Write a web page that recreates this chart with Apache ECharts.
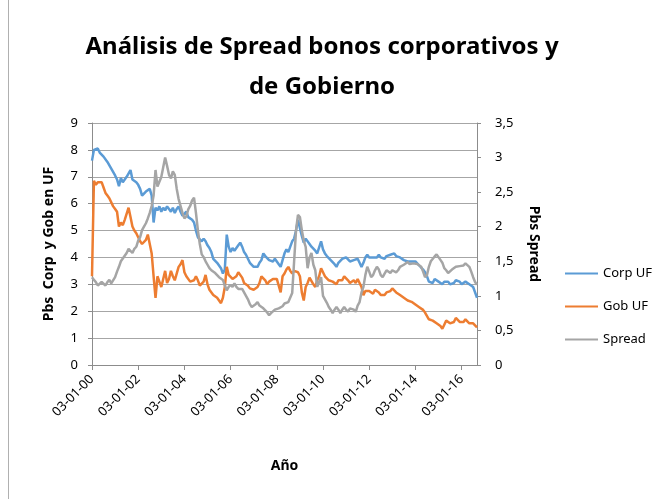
<!DOCTYPE html>
<html lang="es">
<head>
    <meta charset="utf-8">
    <title>Spread bonos</title>
    <script src="https://cdn.jsdelivr.net/npm/echarts@6/dist/echarts.min.js"></script>
    <style>
        html, body { margin: 0; height: 100%; background: #fff; }
        #chart { width: 661px; height: 499px; }
    </style>
</head>
<body>
<div id="chart"></div>
<script>
    // monthly observations, 2000-01 .. 2016-09
    var months = [];
    for (var y = 2000; y <= 2016; y++) {
        for (var m = 1; m <= 12; m++) {
            if (months.length < 201) months.push(y + '-' + (m < 10 ? '0' + m : m));
        }
    }

    var corpUF = [
        7.6, 8.0, 7.95, 8.05, 7.9, 7.95, 7.75, 7.7, 7.55, 7.5, 7.3, 7.25,
        7.05, 6.9, 6.65, 6.95, 6.8, 6.9, 7.0, 6.95, 7.25, 6.9, 6.95, 6.8,
        6.7, 6.55, 6.3, 6.25, 6.45, 6.4, 6.55, 6.3, 5.3, 5.85, 5.75, 5.9,
        5.7, 5.85, 5.75, 5.9, 5.8, 5.7, 5.85, 5.65, 5.8, 5.9, 5.7, 5.55,
        5.6, 5.7, 5.5, 5.45, 5.4, 5.3, 5.0, 4.75, 4.7, 4.6, 4.7, 4.6,
        4.45, 4.35, 4.2, 3.95, 3.9, 3.8, 3.7, 3.6, 3.4, 3.55, 4.85, 4.4,
        4.2, 4.35, 4.25, 4.3, 4.45, 4.55, 4.4, 4.2, 4.1, 3.95, 3.8, 3.75,
        3.65, 3.7, 3.65, 3.8, 3.9, 4.15, 4.05, 4.1, 3.9, 3.95, 3.85, 3.95,
        3.85, 3.75, 3.65, 3.9, 4.15, 4.3, 4.2, 4.4, 4.6, 4.7, 5.0, 5.4,
        5.1, 4.8, 4.55, 4.7, 4.65, 4.5, 4.4, 4.35, 4.25, 4.15, 4.2, 4.6,
        4.3, 4.15, 4.05, 4.0, 3.9, 3.9, 3.75, 3.65, 3.8, 3.85, 3.95, 3.9,
        4.0, 3.95, 3.85, 3.8, 3.9, 3.85, 3.95, 3.8, 3.65, 3.8, 4.0, 4.1,
        4.0, 3.95, 4.0, 4.05, 4.0, 4.1, 4.0, 4.05, 3.95, 4.05, 4.0, 4.1,
        4.05, 4.15, 4.05, 4.0, 4.0, 3.95, 3.9, 3.9, 3.85, 3.9, 3.85, 3.8,
        3.85, 3.8, 3.7, 3.65, 3.55, 3.45, 3.3, 3.1, 3.15, 3.05, 3.2, 3.2,
        3.1, 3.05, 3.0, 3.1, 3.15, 3.1, 3.0, 2.95, 3.05, 3.15, 3.2, 3.1,
        3.0, 3.05, 3.1, 3.05, 3.0, 3.05, 2.9, 2.7, 2.5
    ];

    var gobUF = [
        3.3, 6.85, 6.7, 6.8, 6.75, 6.8, 6.6, 6.4, 6.3, 6.2, 6.15, 5.9,
        5.8, 5.7, 5.15, 5.3, 5.2, 5.4, 5.35, 5.85, 5.5, 5.15, 5.0, 4.9,
        4.75, 4.6, 4.5, 4.55, 4.65, 4.85, 4.5, 4.15, 3.3, 2.5, 3.3, 3.1,
        2.9, 3.2, 3.5, 3.05, 3.2, 3.5, 3.3, 3.15, 3.4, 3.65, 3.75, 3.9,
        3.45, 3.3, 3.25, 3.1, 3.05, 3.15, 3.3, 3.15, 2.95, 2.9, 3.1, 3.35,
        3.0, 2.8, 2.75, 2.6, 2.55, 2.5, 2.4, 2.3, 2.5, 2.9, 3.65, 3.35,
        3.3, 3.2, 3.15, 3.3, 3.45, 3.4, 3.25, 3.05, 3.1, 2.95, 2.85, 2.8,
        2.8, 2.85, 2.9, 3.05, 3.3, 3.35, 3.15, 3.0, 3.1, 3.05, 3.2, 3.25,
        3.2, 2.95, 2.7, 3.3, 3.4, 3.55, 3.65, 3.5, 3.4, 3.5, 3.55, 3.45,
        3.3, 2.7, 2.4, 2.9, 3.05, 3.25, 3.3, 3.0, 2.9, 3.15, 3.3, 3.6,
        3.45, 3.3, 3.25, 3.15, 3.2, 3.1, 3.05, 3.0, 3.15, 3.2, 3.15, 3.3,
        3.25, 3.15, 3.05, 3.1, 3.15, 3.05, 3.2, 3.05, 2.9, 2.6, 2.75, 2.8,
        2.75, 2.7, 2.65, 2.8, 2.75, 2.7, 2.6, 2.65, 2.6, 2.7, 2.65, 2.75,
        2.85, 2.8, 2.7, 2.65, 2.6, 2.55, 2.5, 2.45, 2.4, 2.4, 2.35, 2.35,
        2.25, 2.2, 2.15, 2.1, 2.05, 1.95, 1.9, 1.7, 1.75, 1.65, 1.6, 1.55,
        1.5, 1.45, 1.35, 1.5, 1.65, 1.6, 1.55, 1.5, 1.6, 1.75, 1.7, 1.6,
        1.55, 1.6, 1.7, 1.65, 1.55, 1.6, 1.55, 1.5, 1.4
    ];

    var spread = [
        1.27, 1.23, 1.2, 1.15, 1.13, 1.2, 1.18, 1.15, 1.2, 1.23, 1.18, 1.2,
        1.27, 1.35, 1.42, 1.5, 1.52, 1.58, 1.62, 1.68, 1.69, 1.62, 1.68, 1.71,
        1.8, 1.85, 1.95, 2.0, 2.05, 2.12, 2.2, 2.3, 2.45, 2.82, 2.58, 2.65,
        2.72, 2.86, 3.0, 2.88, 2.75, 2.7, 2.8, 2.75, 2.55, 2.4, 2.3, 2.2,
        2.12, 2.15, 2.25, 2.3, 2.38, 2.42, 2.2, 1.95, 1.75, 1.6, 1.56, 1.5,
        1.45, 1.4, 1.37, 1.35, 1.33, 1.3, 1.27, 1.25, 1.23, 1.15, 1.08, 1.13,
        1.16, 1.13, 1.18, 1.13, 1.1, 1.08, 1.1, 1.05, 1.04, 0.95, 0.88, 0.84,
        0.84, 0.88, 0.91, 0.86, 0.84, 0.82, 0.8, 0.76, 0.72, 0.75, 0.77, 0.8,
        0.8, 0.82, 0.8, 0.85, 0.89, 0.9, 0.91, 0.92, 1.04, 1.5, 1.95, 2.17,
        2.14, 1.95, 1.8, 1.71, 1.4, 1.55, 1.62, 1.45, 1.37, 1.13, 1.2, 1.27,
        1.0, 0.95, 0.9, 0.84, 0.8, 0.75, 0.8, 0.84, 0.8, 0.75, 0.8, 0.84,
        0.8, 0.77, 0.82, 0.84, 0.8, 0.77, 0.86, 0.91, 1.05, 1.13, 1.3, 1.42,
        1.35, 1.27, 1.3, 1.37, 1.42, 1.38, 1.3, 1.27, 1.32, 1.37, 1.35, 1.33,
        1.37, 1.38, 1.34, 1.37, 1.42, 1.4, 1.45, 1.47, 1.49, 1.46, 1.44, 1.47,
        1.48, 1.46, 1.47, 1.42, 1.35, 1.27, 1.3, 1.42, 1.5, 1.52, 1.57, 1.6,
        1.58, 1.52, 1.48, 1.4, 1.37, 1.33, 1.35, 1.38, 1.4, 1.42, 1.4, 1.43,
        1.45, 1.44, 1.47, 1.47, 1.42, 1.35, 1.27, 1.2, 1.16
    ];

    var leftTicks = { min: 0, max: 9, interval: 1 };
    var rightTicks = { min: 0, max: 3.5, interval: 0.5 };

    function isLabelMonth(value) {
        var parts = value.split('-');
        return parts[1] === '01' && (+parts[0]) % 2 === 0;
    }

    var chart = echarts.init(document.getElementById('chart'), null, { renderer: 'canvas' });
    var font = 'Noto Sans';
    var axisGray = '#8c8c8c';

    chart.setOption({
        animation: false,
        title: {
            text: 'Análisis de Spread bonos corporativos y\nde Gobierno',
            left: 322,
            textAlign: 'center',
            top: 27,
            padding: 0,
            textStyle: { fontFamily: font, fontSize: 24, fontWeight: 'bold', color: '#000', lineHeight: 40 }
        },
        graphic: [{
            type: 'line',
            shape: { x1: 8.5, y1: 0, x2: 8.5, y2: 499 },
            style: { stroke: '#b0b0b0', lineWidth: 1 }
        }],
        legend: {
            orient: 'vertical',
            left: 560,
            top: 262,
            itemWidth: 33,
            itemHeight: 2,
            itemGap: 20,
            icon: 'rect',
            textStyle: { fontFamily: font, fontSize: 13, color: '#000' },
            data: ['Corp UF', 'Gob UF', 'Spread']
        },
        grid: { left: 92, right: 184, top: 123, bottom: 134, containLabel: false },
        xAxis: {
            type: 'category',
            data: months,
            boundaryGap: false,
            name: 'Año',
            nameLocation: 'middle',
            nameGap: 94,
            nameTextStyle: { fontFamily: font, fontSize: 14, fontWeight: 'bold', color: '#000' },
            axisLine: { lineStyle: { color: axisGray, width: 1 } },
            axisTick: {
                show: true, length: 5,
                interval: function (idx, value) { return isLabelMonth(value); },
                lineStyle: { color: axisGray }
            },
            axisLabel: {
                interval: function (idx, value) { return isLabelMonth(value); },
                rotate: 45,
                margin: 12,
                fontFamily: font, fontSize: 13, color: '#000',
                formatter: function (value) { return '03-01-' + value.slice(2, 4); }
            },
            splitLine: { show: false }
        },
        yAxis: [{
            type: 'value',
            min: leftTicks.min, max: leftTicks.max, interval: leftTicks.interval,
            name: 'Pbs  Corp  y Gob en UF',
            nameLocation: 'middle',
            nameGap: 36,
            nameTextStyle: { fontFamily: font, fontSize: 14, fontWeight: 'bold', color: '#000' },
            axisLine: { show: true, lineStyle: { color: axisGray } },
            axisTick: { show: true, length: 4, lineStyle: { color: axisGray } },
            axisLabel: { margin: 14, fontFamily: font, fontSize: 13, color: '#000' },
            splitLine: { show: true, lineStyle: { color: '#a6a6a6', width: 1 } }
        }, {
            type: 'value',
            position: 'right',
            min: rightTicks.min, max: rightTicks.max, interval: rightTicks.interval,
            name: 'Pbs Spread',
            nameLocation: 'middle',
            nameGap: 50,
            nameRotate: -90,
            nameTextStyle: { fontFamily: font, fontSize: 14, fontWeight: 'bold', color: '#000' },
            axisLine: { show: true, lineStyle: { color: axisGray } },
            axisTick: { show: true, length: 4, lineStyle: { color: axisGray } },
            axisLabel: {
                margin: 18, fontFamily: font, fontSize: 13, color: '#000',
                formatter: function (v) { return String(v).replace('.', ','); }
            },
            splitLine: { show: false }
        }],
        series: [{
            name: 'Corp UF', type: 'line', data: corpUF, yAxisIndex: 0,
            symbol: 'none', color: '#5b9bd5', lineStyle: { width: 2.5 }
        }, {
            name: 'Gob UF', type: 'line', data: gobUF, yAxisIndex: 0,
            symbol: 'none', color: '#ed7d31', lineStyle: { width: 2.5 }
        }, {
            name: 'Spread', type: 'line', data: spread, yAxisIndex: 1,
            symbol: 'none', color: '#a5a5a5', lineStyle: { width: 2.5 }
        }]
    });
</script>
</body>
</html>
